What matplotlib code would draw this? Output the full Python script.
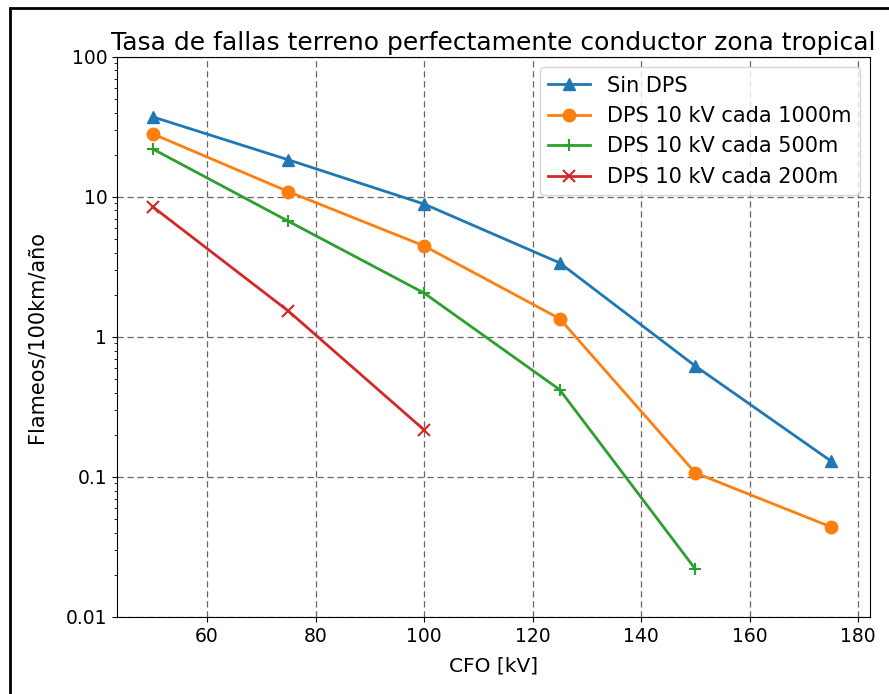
import matplotlib
matplotlib.use("Agg")
import matplotlib.pyplot as plt
from matplotlib.ticker import FixedLocator, FixedFormatter
from matplotlib.patches import Rectangle

# CFO values [kV]
cfo = [50, 75, 100, 125, 150, 175]

# Flashover rates [flashovers/100 km/year]
sin_dps = [37.3, 18.4, 8.9, 3.38, 0.62, 0.13]
dps_1000 = [28.2, 10.9, 4.47, 1.35, 0.107, 0.044]
dps_500 = [22.0, 6.7, 2.06, 0.42, 0.022]
dps_200 = [8.5, 1.53, 0.217]

ytick_vals = [0.01, 0.1, 1, 10, 100]
ytick_labels = ["0.01", "0.1", "1", "10", "100"]

fig = plt.figure(figsize=(8.89, 6.94), dpi=100)
ax = fig.add_axes([0.1316, 0.111, 0.847, 0.807])

ax.plot(cfo, sin_dps, marker="^", markersize=8, lw=2, color="#1f77b4", label="Sin DPS")
ax.plot(cfo, dps_1000, marker="o", markersize=9, lw=2, color="#ff7f0e", label="DPS 10 kV cada 1000m")
ax.plot(cfo[:5], dps_500, marker="+", markersize=8, mew=1.5, lw=2, color="#2ca02c", label="DPS 10 kV cada 500m")
ax.plot(cfo[:3], dps_200, marker="x", markersize=8, mew=1.5, lw=2, color="#d62728", label="DPS 10 kV cada 200m")

ax.set_yscale("log")
ax.set_ylim(0.01, 100)
ax.set_xlim(43.4, 182.2)
ax.yaxis.set_major_locator(FixedLocator(ytick_vals))
ax.yaxis.set_major_formatter(FixedFormatter(ytick_labels))
ax.tick_params(labelsize=13.5)
ax.grid(True, which="major", color="0.4", lw=0.9, dashes=(5, 3))

ax.set_xlabel("CFO [kV]", fontsize=14.5, labelpad=8)
ax.set_ylabel("Flameos/100km/año", fontsize=15, labelpad=14)
ax.set_title("Tasa de fallas terreno perfectamente conductor zona tropical", fontsize=18, pad=5)
ax.legend(fontsize=15, loc="upper right", borderaxespad=0.5)

# black frame around the whole figure
fig.patches.append(Rectangle((10 / 889, -0.05), 1.2, 1.05 - 8 / 694, transform=fig.transFigure,
                             fill=False, edgecolor="black", lw=2))

fig.savefig("out.png", dpi=100)
